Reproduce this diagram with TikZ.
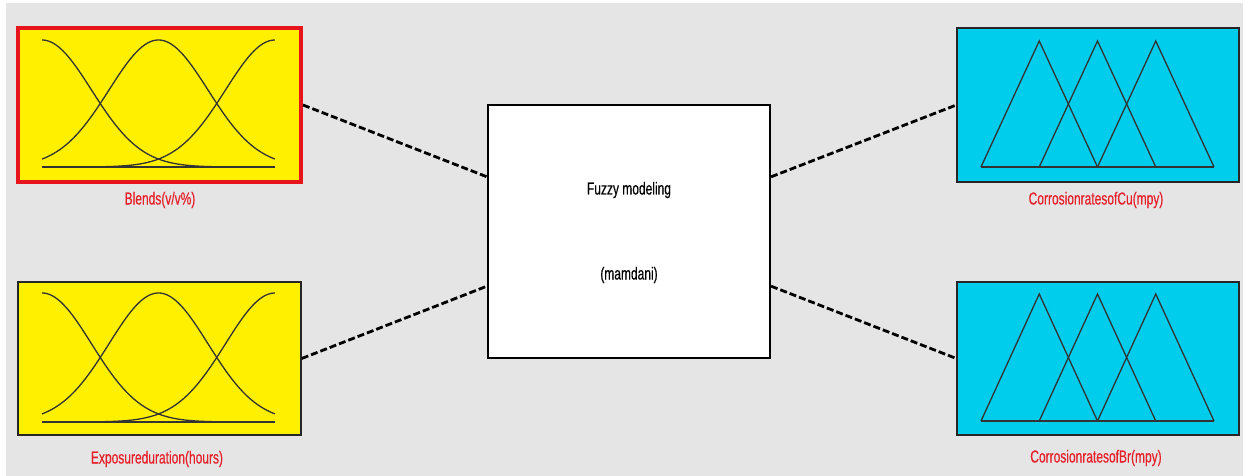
\documentclass[tikz,border=0pt]{standalone}
\usepackage{fontspec}
\usepackage{graphicx}
\setmainfont{Liberation Sans}
\newfontfamily\heavysans{Liberation Sans}[FakeBold=0.5]
\usetikzlibrary{calc}

\definecolor{panel}{HTML}{E5E5E5}
\definecolor{inyellow}{HTML}{FFF000}
\definecolor{outcyan}{HTML}{00CCEC}
\definecolor{lblred}{HTML}{E5202A}
\definecolor{selred}{HTML}{E8141C}

\newcommand{\tallText}[1]{\scalebox{1}[1.45]{#1}}

% three Gaussian membership functions over [x0, x0+w], baseline yb, peak height h
\newcommand{\gaussmfs}[4]{%
  \draw[mfcurve] (#1,#2) -- ++(#3,0);
  \draw[mfcurve] plot[domain=0:1,samples=90] ({#1+#3*\x},{#2-#4*exp(-(\x*\x)/0.0902)});
  \draw[mfcurve] plot[domain=0:1,samples=90] ({#1+#3*\x},{#2-#4*exp(-((\x-0.5)*(\x-0.5))/0.0902)});
  \draw[mfcurve] plot[domain=0:1,samples=90] ({#1+#3*\x},{#2-#4*exp(-((\x-1)*(\x-1))/0.0902)});
}
% three triangular membership functions over [x0, x0+4s], baseline yb, apex ya
\newcommand{\trimfs}[4]{%
  \draw[mfcurve] (#1,#2) -- ++(4*#3,0);
  \draw[mfcurve] (#1,#2) -- (#1+#3,#4) -- (#1+2*#3,#2);
  \draw[mfcurve] (#1+#3,#2) -- (#1+2*#3,#4) -- (#1+3*#3,#2);
  \draw[mfcurve] (#1+2*#3,#2) -- (#1+3*#3,#4) -- (#1+4*#3,#2);
}

\tikzset{
  varbox/.style={draw=black!85, line width=1.4pt, minimum width=283pt, minimum height=154pt, inner sep=0pt},
  inbox/.style={varbox, fill=inyellow},
  outbox/.style={varbox, fill=outcyan, minimum width=282pt},
  selected/.style={draw=selred, line width=4pt},
  rulebox/.style={draw=black, line width=2pt, fill=white, minimum width=282pt, minimum height=253pt, inner sep=0pt},
  mfcurve/.style={draw=black!80, line width=1.3pt},
  lbl/.style={text=lblred, font=\heavysans\fontsize{12}{12}\selectfont, inner sep=0pt},
  ctext/.style={text=black, font=\heavysans\fontsize{12}{12}\selectfont, inner sep=0pt},
  link/.style={draw=black, line width=2.8pt, dash pattern=on 7pt off 3pt},
}

\begin{document}
\begin{tikzpicture}[x=1pt,y=-1pt]
  \useasboundingbox (0,0) rectangle (1253,476);
  \fill[white] (0,0) rectangle (1253,476);
  \fill[panel] (6,3) rectangle (1243,476);

  % input variables
  \node[inbox, selected] (b1) at (159.5,105) {};
  \node[inbox, minimum height=153pt] (b2) at (159.5,358.5) {};
  % rule block
  \node[rulebox] (c) at (629,231.5) {};
  % output variables
  \node[outbox] (o1) at (1098,105) {};
  \node[outbox, minimum height=153pt] (o2) at (1098,358.5) {};

  % membership functions
  \gaussmfs{42}{167}{233}{127}
  \gaussmfs{42}{422}{233}{129}
  \trimfs{981}{167}{58.25}{41}
  \trimfs{981}{421}{58.25}{294}

  % labels
  \node[lbl] (l1) at (160,200) {\tallText{Blends(v/v\%)}};
  \node[lbl] (l2) at (157,459) {\tallText{Exposureduration(hours)}};
  \node[lbl] (l3) at (1096,200) {\tallText{CorrosionratesofCu(mpy)}};
  \node[lbl] (l4) at (1096,458) {\tallText{CorrosionratesofBr(mpy)}};
  \node[ctext] (t1) at (629,190) {\tallText{Fuzzy modeling}};
  \node[ctext] (t2) at (629,275) {\tallText{(mamdani)}};

  % connections to the rule block
  \coordinate (cin1) at ($(c.north west)!2/7!(c.south west)$);
  \coordinate (cin2) at ($(c.north west)!5/7!(c.south west)$);
  \coordinate (cout1) at ($(c.north east)!2/7!(c.south east)$);
  \coordinate (cout2) at ($(c.north east)!5/7!(c.south east)$);
  \draw[link] (b1.east) -- (cin1);
  \draw[link] (b2.east) -- (cin2);
  \draw[link] (cout1) -- (o1.west);
  \draw[link] (cout2) -- (o2.west);
\end{tikzpicture}
\end{document}
